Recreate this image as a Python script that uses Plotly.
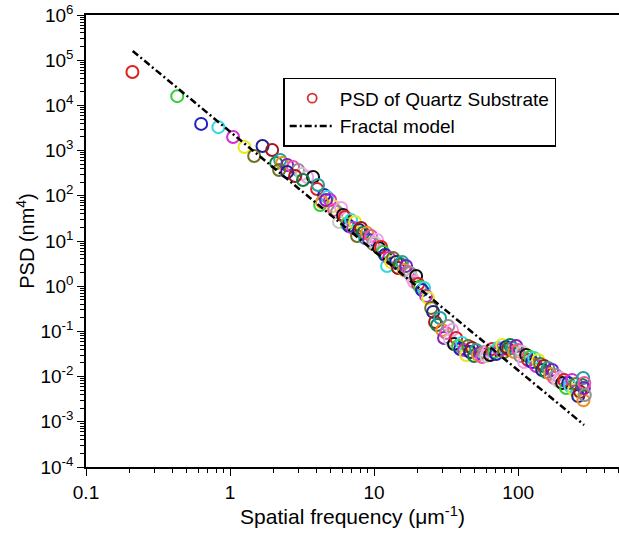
import plotly.graph_objects as go

# Spatial frequency (um^-1) of measured PSD points
freq = [0.21, 0.43, 0.63, 0.83, 1.05, 1.26, 1.47, 1.68, 1.96,
        2.09, 2.23, 2.30, 2.49, 2.74, 2.97, 3.16, 3.43, 3.77, 4.02, 4.22, 4.50, 4.72, 4.95, 5.19,
        2.19, 2.49, 2.83, 3.21, 4.08, 4.35, 4.64, 5.28,
        5.53, 5.71, 5.90, 6.09, 6.29, 6.49, 6.70, 6.92, 7.15, 7.38, 7.62, 7.87,
        8.12, 8.39, 8.66, 8.94, 9.23, 9.53, 9.84, 10.16, 10.49, 10.83, 11.19, 11.55, 11.92, 12.31, 12.71, 13.12, 13.55,
        14.22, 14.68, 15.16, 15.65, 16.16, 16.68, 17.22, 17.78, 18.36, 18.96, 19.57, 20.21, 20.87, 21.54, 22.24, 22.97, 23.71,
        24.9, 25.7, 26.5, 27.4, 28.7, 29.7, 30.6, 31.6, 32.7, 33.7, 34.8, 35.9, 37.1, 38.3,
        39.6, 40.8, 42.2, 43.5, 45.0, 46.4, 47.9, 49.5, 51.1, 52.8, 54.5, 56.2, 58.1, 60.0, 61.9, 63.9, 66.0, 68.1, 70.3, 72.6,
        75.0, 77.4, 79.9, 82.5, 85.2, 88.0, 90.9, 93.8, 96.9, 100.0, 103.3, 106.6, 110.1,
        113.7, 117.3, 121.2, 125.1, 129.2, 133.4, 137.7, 142.2, 146.8, 151.6, 156.5, 161.6, 166.8, 172.2, 177.8, 183.6,
        189.6, 195.7, 202.1, 208.7, 215.4, 222.4, 229.7, 237.1, 244.8, 252.8, 261.0, 269.5, 278.3, 283.0, 284.0, 286.0, 288.0, 290.0]

# PSD values (nm^4)
psd = [55000, 16000, 3900, 3300, 2000, 1200, 760, 1260, 1030,
       532, 619, 532, 480, 434, 372, 304, 261, 261, 141, 62.5, 104, 94, 80.7, 59.5,
       372, 336, 274, 224, 173, 72.9, 80.7, 48.5,
       43.8, 26.3, 53.7, 37.6, 34.0, 23.8, 21.5, 29.2, 19.4, 26.3, 12.9, 17.5,
       19.4, 15.0, 11.6, 15.0, 10.5, 12.9, 8.59, 9.03, 10.5, 7.00, 7.36, 5.71, 4.90, 2.80, 4.21, 3.43, 4.21,
       3.43, 2.53, 3.10, 3.43, 2.28, 2.80, 2.06, 1.96, 1.52, 1.24, 1.68, 1.12, 0.96, 0.82, 0.91, 0.61, 0.55,
       0.33, 0.27, 0.161, 0.139, 0.198, 0.107, 0.0714, 0.092, 0.132, 0.0646, 0.107, 0.0526, 0.0714, 0.0475,
       0.0408, 0.0554, 0.0388, 0.0301, 0.0475, 0.0350, 0.0430, 0.0286, 0.0388, 0.0301, 0.0333, 0.0272, 0.0350, 0.0286,
       0.0368, 0.0301, 0.0408, 0.0350, 0.0316, 0.0430,
       0.0388, 0.050, 0.0350, 0.0452, 0.0408, 0.050, 0.0430, 0.0350, 0.0475, 0.0388, 0.0286, 0.0350, 0.0210,
       0.0301, 0.0233, 0.0272, 0.0210, 0.0258, 0.0172, 0.0233, 0.0190, 0.0140, 0.0172, 0.0126, 0.0155, 0.0114, 0.0140,
       0.0093, 0.0108,
       0.0080, 0.0093, 0.0072, 0.0084, 0.0056, 0.0072, 0.0062, 0.0084, 0.0051, 0.0069, 0.0037, 0.0046, 0.0065, 0.0093,
       0.0030, 0.0056, 0.0072, 0.0039]

# Fractal model endpoints
model_freq = [0.211, 287]
model_psd = [1.6e5, 8.5e-4]

palette = ["#e02020", "#30d030", "#2020c0", "#30d8e0", "#d030d0", "#e8e820", "#707020",
           "#202090", "#a01818", "#108040", "#20a0a0", "#f09020", "#8020c0", "#f050b0",
           "#909090", "#c8c8c8", "#f0a0f0", "#101010"]
colors = [palette[i % len(palette)] for i in range(len(freq))]

ytick_vals = [10.0 ** e for e in range(-4, 7)]
ytick_text = ["10<sup>%d</sup>" % e for e in range(-4, 7)]
xtick_vals = [0.1, 1, 10, 100]
xtick_text = ["0.1", "1", "10", "100"]
x_minor = [m * 10.0 ** e for e in range(-1, 3) for m in range(2, 10)]
y_minor = [m * 10.0 ** e for e in range(-4, 6) for m in range(2, 10)]

fig = go.Figure()
fig.add_trace(go.Scatter(
    x=freq, y=psd, mode="markers", showlegend=False,
    marker=dict(symbol="circle-open", size=12, color=colors, line=dict(width=2, color=colors)),
))
fig.add_trace(go.Scatter(
    x=[None], y=[None], mode="markers", name="PSD of Quartz Substrate",
    marker=dict(symbol="circle-open", size=9, color="#d83030", line=dict(width=1.8)),
))
fig.add_trace(go.Scatter(
    x=model_freq, y=model_psd, mode="lines", name="Fractal model",
    line=dict(color="black", width=2.5, dash="7px,3px,2px,3px"),
))

font_family = "Liberation Sans, Arial, Helvetica, sans-serif"
fig.update_layout(
    width=619, height=536,
    margin=dict(l=86, r=0, t=15, b=69),
    paper_bgcolor="white", plot_bgcolor="white",
    font=dict(family=font_family, size=19, color="black"),
    legend=dict(x=0.37, y=0.861, xanchor="left", yanchor="top",
                bordercolor="black", borderwidth=1.5, bgcolor="white",
                font=dict(size=19), tracegroupgap=0, itemwidth=45),
    xaxis=dict(type="log", range=[-1, 2.7], showgrid=False, zeroline=False, automargin=False,
               showline=True, linecolor="black", linewidth=1.5, mirror=True,
               ticks="outside", ticklen=7, tickwidth=1.2, tickcolor="black",
               tickvals=xtick_vals, ticktext=xtick_text, tickfont=dict(size=19),
               minor=dict(tickvals=x_minor, ticks="outside", ticklen=4, tickcolor="black", showgrid=False),
               title=dict(text="Spatial frequency (μm<sup>-1</sup>)", standoff=6, font=dict(size=21))),
    yaxis=dict(type="log", range=[-4, 6], showgrid=False, zeroline=False, automargin=False,
               showline=True, linecolor="black", linewidth=1.5,
               ticks="outside", ticklen=7, tickwidth=1.2, tickcolor="black",
               tickvals=ytick_vals, ticktext=ytick_text, tickfont=dict(size=19),
               minor=dict(tickvals=y_minor, ticks="outside", ticklen=4, tickcolor="black", showgrid=False),
               title=dict(text="PSD (nm<sup>4</sup>)", standoff=0, font=dict(size=20))),
)

fig.write_html("out.html", config={"displayModeBar": False},
               post_script="document.body.style.margin='0';")
